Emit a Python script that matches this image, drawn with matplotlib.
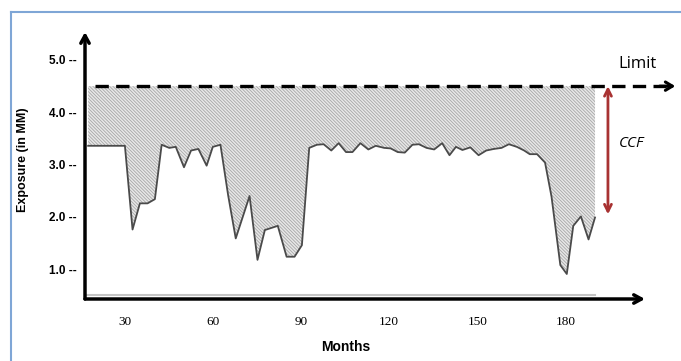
import matplotlib
matplotlib.use("Agg")
import matplotlib.pyplot as plt
from matplotlib.lines import Line2D

# ---- data ----
months = [17.6, 30.1, 32.7, 35.2, 37.8, 40.3, 42.6, 45.2, 47.4, 50.2, 52.6, 55.1,
          57.9, 60.0, 62.6, 65.2, 67.8, 72.5, 75.2, 77.7, 82.1, 85.1, 87.8, 90.3,
          92.8, 95.4, 97.7, 100.3, 102.8, 105.3, 107.5, 110.2, 112.9, 115.4, 118.3,
          120.5, 122.9, 125.3, 127.9, 130.1, 132.7, 135.3, 138.0, 140.5, 142.7,
          144.9, 147.6, 150.4, 153.0, 155.6, 158.2, 160.7, 163.4, 165.9, 167.8,
          170.3, 173.0, 175.2, 178.2, 180.4, 182.6, 185.2, 187.8, 190.0]
exposure = [3.36, 3.36, 1.76, 2.26, 2.26, 2.34, 3.38, 3.32, 3.34, 2.95, 3.27, 3.30,
            2.98, 3.34, 3.38, 2.42, 1.59, 2.40, 1.18, 1.75, 1.83, 1.24, 1.24, 1.46,
            3.32, 3.38, 3.39, 3.27, 3.41, 3.24, 3.24, 3.41, 3.29, 3.36, 3.32,
            3.31, 3.24, 3.23, 3.38, 3.39, 3.32, 3.29, 3.41, 3.18, 3.34,
            3.28, 3.33, 3.18, 3.27, 3.30, 3.32, 3.39, 3.34, 3.27, 3.20,
            3.20, 3.04, 2.39, 1.08, 0.91, 1.83, 2.01, 1.57, 1.99]
limit = 4.5
ccf_bottom = 2.05
baseline = 0.51
x_ticks = [30, 60, 90, 120, 150, 180]
y_ticks = [1.0, 2.0, 3.0, 4.0, 5.0]
y_tick_labels = ["1.0 --", "2.0 --", "3.0 --", "4.0 --", "5.0 --"]

xmin, xmax = 16.53, 207.0
ymin, ymax = 0.432, 5.535

plt.rcParams['hatch.linewidth'] = 0.6
fig = plt.figure(figsize=(6.81, 3.61), dpi=100)
ax = fig.add_axes([85/681, 62/361, (645-85)/681, (329-62)/361])
ax.set_xlim(xmin, xmax)
ax.set_ylim(ymin, ymax)
for s in ax.spines.values():
    s.set_visible(False)

# hatched fill between exposure and limit
ax.fill_between(months, exposure, limit, facecolor="#e8e8e8", edgecolor="#a6a6a6",
                hatch="\\" * 10, linewidth=0, zorder=1)
ax.plot(months, exposure, color="#4a4a4a", lw=1.3, zorder=3)

# grey baseline
ax.plot([months[0] - 1.0, months[-1]], [baseline, baseline], color="#c4c4c4", lw=1.5, zorder=2)

# limit dashed line with arrow
ax.plot([20.1, 214.0], [limit, limit], color="black", lw=2.4,
        linestyle=(0, (4.0, 2.2)), clip_on=False, zorder=4)
ax.annotate("", xy=(217.3, limit), xytext=(212.0, limit),
            arrowprops=dict(arrowstyle="->,head_length=0.5,head_width=0.3", lw=2.2, color="black",
                            shrinkA=0, shrinkB=0),
            annotation_clip=False, zorder=4)
ax.text(197.8, limit + 0.43, "Limit", fontsize=12, family="Open Sans", ha="left", va="center",
        clip_on=False)

# CCF arrow
ccf_x = 194.4
ax.annotate("", xy=(ccf_x, ccf_bottom), xytext=(ccf_x, limit),
            arrowprops=dict(arrowstyle="<->,head_length=0.5,head_width=0.25", lw=2.0, color="#a83232",
                            shrinkA=0, shrinkB=0),
            annotation_clip=False, zorder=5)
ax.text(198.0, 3.41, "CCF", fontsize=11, style="italic", family="Open Sans",
        ha="left", va="center", clip_on=False)

# axes arrows
ax.annotate("", xy=(xmax, ymin), xytext=(xmin, ymin),
            arrowprops=dict(arrowstyle="->,head_length=0.55,head_width=0.3", lw=2.5, color="black",
                            shrinkA=0, shrinkB=0),
            annotation_clip=False, zorder=6)
ax.annotate("", xy=(xmin, ymax), xytext=(xmin, ymin),
            arrowprops=dict(arrowstyle="->,head_length=0.55,head_width=0.3", lw=2.5, color="black",
                            shrinkA=0, shrinkB=0),
            annotation_clip=False, zorder=6)

# ticks
ax.set_xticks(x_ticks)
ax.set_xticklabels([str(t) for t in x_ticks], fontsize=9.5, family="Liberation Serif")
ax.set_yticks(y_ticks)
ax.set_yticklabels(y_tick_labels, fontsize=8.5, fontweight="bold", family="Liberation Sans")
ax.tick_params(axis="x", length=0, pad=12)
ax.tick_params(axis="y", length=0, pad=6)

fig.text(346/681, 1 - 347/361, "Months", fontsize=10, fontweight="bold",
         family="Liberation Sans", ha="center", va="center")
fig.text(23/681, 1 - 160/361, "Exposure (in MM)", fontsize=9, fontweight="bold",
         family="Liberation Sans", ha="center", va="center", rotation=90)

# blue frame lines
fig.add_artist(Line2D([11/681, 11/681], [0, 1 - 12/361], color="#7fa6d6", lw=1.5))
fig.add_artist(Line2D([11/681, 1], [1 - 12/361, 1 - 12/361], color="#7fa6d6", lw=1.5))

fig.savefig("out.png", dpi=100)
